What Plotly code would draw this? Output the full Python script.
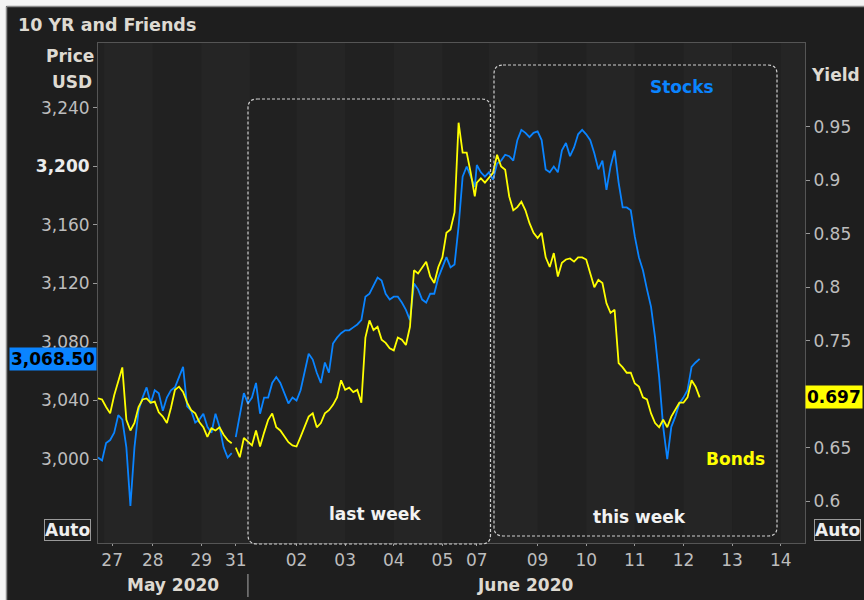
import pandas as pd
import plotly.graph_objects as go

# ---------------- data (2-hour samples within each futures session) ----------------
session1_start, session1_n = "2020-05-26 21:00", 35
session2_start, session2_n = "2020-05-31 18:00", 60
session3_start, session3_n = "2020-06-07 18:00", 56

stocks_s1 = [3001, 2999, 3011, 3013, 3018, 3030, 3027, 3008, 2968, 3008,
             3033, 3042, 3049, 3038, 3047, 3045, 3033, 3042, 3047, 3049,
             3056, 3063, 3036, 3033, 3025, 3027, 3031, 3022, 3018, 3031,
             3022, 3008, 3001, 3004, 3054]
stocks_s2 = [3015, 3031, 3045, 3038, 3042, 3052, 3031, 3042, 3042, 3052,
             3056, 3052, 3045, 3038, 3042, 3040, 3047, 3059, 3072, 3068,
             3059, 3052, 3066, 3059, 3079, 3083, 3086, 3088, 3088, 3090,
             3092, 3095, 3111, 3113, 3118, 3124, 3122, 3113, 3109, 3111,
             3111, 3107, 3102, 3095, 3120, 3116, 3109, 3107, 3113, 3113,
             3124, 3131, 3138, 3131, 3133, 3159, 3193, 3200, 3193, 3186]
stocks_s3 = [3201, 3196, 3193, 3196, 3191, 3202, 3204, 3208, 3207, 3204,
             3218, 3225, 3223, 3220, 3223, 3224, 3218, 3198, 3196, 3200,
             3196, 3211, 3216, 3207, 3213, 3222, 3225, 3222, 3218, 3209,
             3198, 3204, 3184, 3200, 3211, 3189, 3172, 3172, 3170, 3152,
             3138, 3129, 3116, 3104, 3083, 3056, 3022, 3000, 3022, 3029,
             3038, 3042, 3047, 3063, 3066, 3068.5]

bonds_s1 = [0.696, 0.695, 0.688, 0.682, 0.699, 0.713, 0.725, 0.676, 0.666, 0.673,
            0.688, 0.695, 0.696, 0.692, 0.693, 0.683, 0.679, 0.673, 0.687, 0.704,
            0.707, 0.702, 0.692, 0.685, 0.682, 0.674, 0.669, 0.660, 0.668, 0.666,
            0.669, 0.662, 0.657, 0.654, 0.648]
bonds_s2 = [0.650, 0.641, 0.659, 0.655, 0.652, 0.666, 0.651, 0.664, 0.676, 0.682,
            0.669, 0.666, 0.660, 0.655, 0.652, 0.651, 0.660, 0.669, 0.679, 0.682,
            0.669, 0.673, 0.682, 0.685, 0.690, 0.697, 0.713, 0.704, 0.706, 0.702,
            0.704, 0.692, 0.753, 0.769, 0.760, 0.763, 0.751, 0.748, 0.743, 0.741,
            0.753, 0.751, 0.746, 0.763, 0.816, 0.813, 0.819, 0.824, 0.810, 0.804,
            0.819, 0.828, 0.851, 0.854, 0.870, 0.954, 0.926, 0.926, 0.907, 0.885]
bonds_s3 = [0.898, 0.902, 0.898, 0.903, 0.907, 0.924, 0.913, 0.910, 0.885, 0.872,
            0.875, 0.880, 0.872, 0.860, 0.851, 0.846, 0.851, 0.828, 0.819, 0.832,
            0.810, 0.823, 0.826, 0.827, 0.824, 0.828, 0.828, 0.826, 0.813, 0.800,
            0.807, 0.804, 0.785, 0.776, 0.779, 0.729, 0.725, 0.720, 0.720, 0.710,
            0.707, 0.697, 0.695, 0.682, 0.673, 0.669, 0.676, 0.669, 0.679, 0.685,
            0.692, 0.692, 0.697, 0.713, 0.707, 0.697]

left_tick_vals = [3000, 3040, 3080, 3120, 3160, 3200, 3240]
left_tick_text = ["3,000", "3,040", "3,080", "3,120", "3,160",
                  "<b><span style='color:#ececec'>3,200</span></b>", "3,240"]
right_tick_vals = [0.6, 0.65, 0.7, 0.75, 0.8, 0.85, 0.9, 0.95]
right_tick_text = ["0.6", "0.65", "0.7", "0.75", "0.8", "0.85", "0.9", "0.95"]
x_tick_vals = ["2020-05-27 04:00", "2020-05-28", "2020-05-29", "2020-05-31 18:00",
               "2020-06-02", "2020-06-03", "2020-06-04", "2020-06-05",
               "2020-06-07 18:00", "2020-06-09", "2020-06-10", "2020-06-11",
               "2020-06-12", "2020-06-13", "2020-06-14"]
x_tick_text = ["27", "28", "29", "31", "02", "03", "04", "05", "07",
               "09", "10", "11", "12", "13", "14"]
weekend_breaks = [["2020-05-29 17:00", "2020-05-31 18:00"],
                  ["2020-06-05 17:00", "2020-06-07 18:00"]]
shaded_days = ["2020-05-27", "2020-05-29", "2020-06-02", "2020-06-04",
               "2020-06-08", "2020-06-10", "2020-06-12", "2020-06-14"]

times = (list(pd.date_range(session1_start, periods=session1_n, freq="2h"))
         + list(pd.date_range(session2_start, periods=session2_n, freq="2h"))
         + list(pd.date_range(session3_start, periods=session3_n, freq="2h")))
stocks = stocks_s1 + stocks_s2 + stocks_s3
bonds = bonds_s1 + bonds_s2 + bonds_s3

# ---------------- layout helpers (screen pixel -> paper) ----------------
W, H = 864, 600
L, R, T, B = 98, 805, 43, 543  # plot area in pixels
PW, PH = R - L, B - T


def px_x(p):
    return (p - L) / PW


def px_y(p):
    return (B - p) / PH


def rrect(x0, y0, x1, y1, r=9):
    X0, X1, Y0, Y1 = px_x(x0), px_x(x1), px_y(y0), px_y(y1)
    rx, ry = r / PW, r / PH
    return (f"M {X0+rx},{Y0} L {X1-rx},{Y0} Q {X1},{Y0} {X1},{Y0-ry} "
            f"L {X1},{Y1+ry} Q {X1},{Y1} {X1-rx},{Y1} L {X0+rx},{Y1} "
            f"Q {X0},{Y1} {X0},{Y1+ry} L {X0},{Y0-ry} Q {X0},{Y0} {X0+rx},{Y0} Z")


FONT = "DejaVu Sans"
BLUE = "#0a84ff"
YELLOW = "#ffff00"
TICK_COLOR = "#bdbdbd"
LABEL_COLOR = "#dedad2"

fig = go.Figure()
fig.add_trace(go.Scatter(x=times, y=stocks, mode="lines", name="Stocks",
                         line=dict(color=BLUE, width=1.8), yaxis="y"))
fig.add_trace(go.Scatter(x=times, y=bonds, mode="lines", name="Bonds",
                         line=dict(color=YELLOW, width=1.8), yaxis="y2"))

shapes = []
for d in shaded_days:
    start = pd.Timestamp(d)
    shapes.append(dict(type="rect", xref="x", yref="paper", x0=start,
                       x1=start + pd.Timedelta(days=1), y0=0, y1=1,
                       fillcolor="#252525", line=dict(width=0), layer="below"))
# dashed rounded boxes
shapes.append(dict(type="path", xref="paper", yref="paper",
                   path=rrect(248, 99, 490.5, 544),
                   line=dict(color="#cfcfcf", width=1.2, dash="3px,2px")))
shapes.append(dict(type="path", xref="paper", yref="paper",
                   path=rrect(494, 65, 777, 536),
                   line=dict(color="#cfcfcf", width=1.2, dash="3px,2px")))
# month separator
shapes.append(dict(type="line", xref="x", yref="paper", x0="2020-06-01", x1="2020-06-01",
                   y0=px_y(574), y1=px_y(597), line=dict(color="#8a8a8a", width=1.3)))
# screenshot frame: white strips on top/left and grey border
shapes.append(dict(type="rect", xref="paper", yref="paper", x0=px_x(-2), x1=px_x(6),
                   y0=px_y(602), y1=px_y(-2), fillcolor="#f4f4f4", line=dict(width=0)))
shapes.append(dict(type="rect", xref="paper", yref="paper", x0=px_x(-2), x1=px_x(866),
                   y0=px_y(6), y1=px_y(-2), fillcolor="#f4f4f4", line=dict(width=0)))
shapes.append(dict(type="line", xref="paper", yref="paper", x0=px_x(6.5), x1=px_x(6.5),
                   y0=px_y(602), y1=px_y(6.5), line=dict(color="#8c8c8c", width=1.5)))
shapes.append(dict(type="line", xref="paper", yref="paper", x0=px_x(6.5), x1=px_x(866),
                   y0=px_y(6.5), y1=px_y(6.5), line=dict(color="#8c8c8c", width=1.5)))


def txt(text, x, y, color=LABEL_COLOR, size=17, xanchor="center", bold=True, **kw):
    return dict(text=f"<b>{text}</b>" if bold else text, x=x, y=y, xref="paper",
                yref=kw.pop("yref", "paper"), xanchor=xanchor, yanchor="middle",
                showarrow=False, font=dict(family=FONT, size=size, color=color), **kw)


annotations = [
    txt("10 YR and Friends", px_x(16), px_y(25), xanchor="left", size=17.5),
    txt("Price", px_x(96), px_y(56), xanchor="right"),
    txt("USD", px_x(94), px_y(82), xanchor="right"),
    txt("Yield", px_x(809), px_y(75), xanchor="left"),
    txt("Stocks", px_x(682), px_y(87), color=BLUE),
    txt("Bonds", px_x(735), px_y(459), color=YELLOW),
    txt("last week", px_x(375), px_y(514), color="#f2f2f2"),
    txt("this week", px_x(639), px_y(517), color="#f2f2f2"),
    txt("May 2020", px_x(173), px_y(585)),
    txt("June 2020", px_x(525), px_y(585)),
    txt("Auto", px_x(67.5), px_y(530), color="#eeeeee", bordercolor="#9a9a9a",
        borderwidth=1, borderpad=0),
    txt("Auto", px_x(837), px_y(530), color="#eeeeee", bordercolor="#9a9a9a",
        borderwidth=1, borderpad=0),
    txt(f"{stocks[-1]:,.2f}", px_x(52.5), stocks[-1], yref="y", color="#000000",
        bgcolor=BLUE, borderpad=1),
    txt(f"{bonds[-1]:.3f}", px_x(833.5), bonds[-1], yref="y2", color="#000000",
        bgcolor=YELLOW, borderpad=1),
]

axis_common = dict(showgrid=False, zeroline=False, showline=True, linecolor="#555555",
                   linewidth=1, ticks="outside", tickcolor="#9a9a9a", automargin=False,
                   tickfont=dict(family=FONT, size=17, color=TICK_COLOR))

fig.update_layout(
    width=W, height=H,
    margin=dict(l=L, r=W - R, t=T, b=H - B, pad=0),
    paper_bgcolor="#1e1e1e", plot_bgcolor="#212121",
    showlegend=False, hovermode=False,
    font=dict(family=FONT, size=17, color=TICK_COLOR),
    xaxis=dict(**axis_common, type="date",
               range=["2020-05-26 21:00", "2020-06-14 12:00"],
               rangebreaks=[dict(bounds=b) for b in weekend_breaks],
               tickvals=x_tick_vals, ticktext=x_tick_text, ticklen=2,
               mirror=True),
    yaxis=dict(**axis_common, range=[2942.6, 3284.4], tickvals=left_tick_vals,
               ticktext=left_tick_text, ticklen=4, mirror=True),
    yaxis2=dict(**axis_common, range=[0.5607, 1.0286], overlaying="y", side="right",
                anchor="x", tickvals=right_tick_vals, ticktext=right_tick_text,
                ticklen=4),
    shapes=shapes,
    annotations=annotations,
)

# place the figure at the page's top-left corner so the whole 864x600 panel is visible
fig.write_html("out.html",
               config={"displayModeBar": False, "staticPlot": True},
               post_script="document.body.style.margin='0';"
                           "document.documentElement.style.overflow='hidden';"
                           "document.body.style.overflow='hidden';")
